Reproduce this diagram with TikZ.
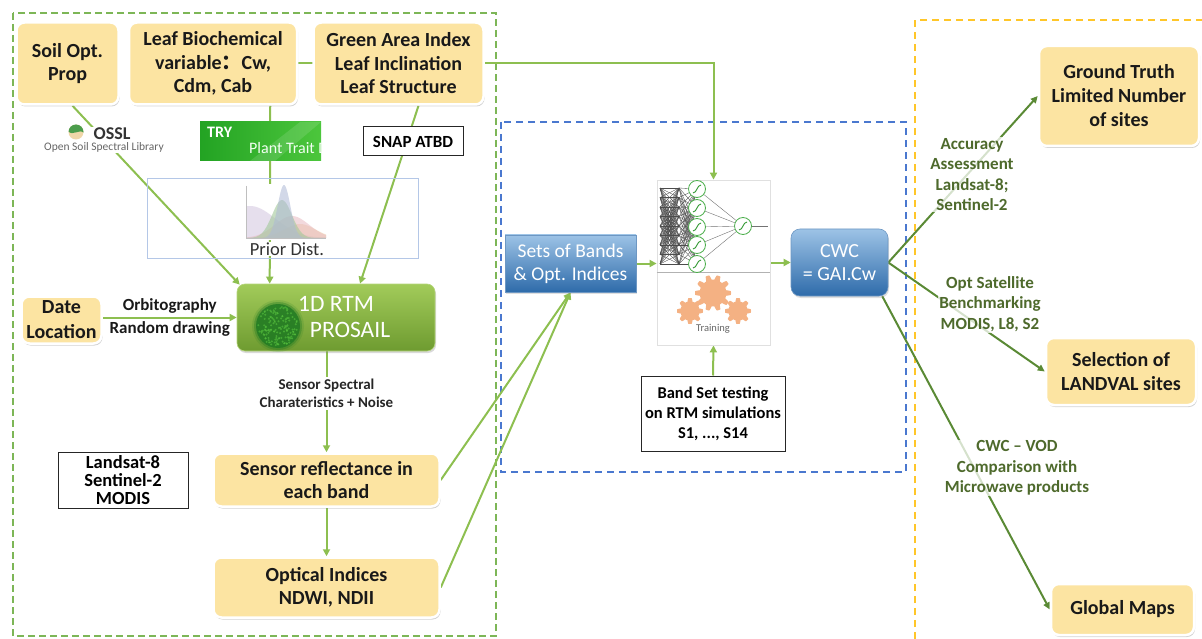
\documentclass[tikz,border=0pt]{standalone}
\usepackage{fontspec}
\setmainfont{Carlito}
\newfontfamily\cjkfont{Noto Sans CJK SC}
\usetikzlibrary{arrows.meta,shadows,calc,backgrounds}

\definecolor{boxyellow}{HTML}{FCE4A2}
\definecolor{lgreen}{HTML}{8DBF50}
\definecolor{dgreen}{HTML}{5A8A35}
\definecolor{lblgreen}{HTML}{4E6A2C}
\definecolor{frameg}{HTML}{7DB657}
\definecolor{frameb}{HTML}{4A78CF}
\definecolor{framey}{HTML}{FFC629}
\definecolor{bluetop}{HTML}{9DC3E6}
\definecolor{bluebot}{HTML}{2E6BAA}
\definecolor{rtmtop}{HTML}{A2CB5A}
\definecolor{rtmbot}{HTML}{6E9B30}
\definecolor{gearorange}{HTML}{F4B183}
\definecolor{priorframe}{HTML}{B4C7E7}
\definecolor{cLav}{HTML}{D3C6E0}
\definecolor{cBlue}{HTML}{AEB9D6}
\definecolor{cGreen}{HTML}{A3C99A}
\definecolor{cPink}{HTML}{E7B4BD}
\definecolor{cTan}{HTML}{F0D3A8}
\definecolor{blobdark}{HTML}{1F7A22}
\definecolor{blobhi}{HTML}{57C23E}
\definecolor{tryleft}{HTML}{23A323}
\definecolor{tryright}{HTML}{4CC63C}

\begin{document}
\begin{tikzpicture}[x=1pt,y=-1pt,
  ybox/.style={rounded corners=8pt, fill=boxyellow, draw=white, line width=2.5pt,
    drop shadow={opacity=0.35, shadow xshift=1pt, shadow yshift=-2pt},
    align=center, inner sep=2pt, text=black!90,
    font=\bfseries\fontsize{20}{23.5}\selectfont},
  bbox/.style={top color=bluetop, bottom color=bluebot, draw=bluebot!70!white, line width=0.6pt,
    text=white, align=center, inner sep=2pt,
    drop shadow={opacity=0.25, shadow xshift=1pt, shadow yshift=-2pt},
    font=\fontsize{19.5}{23}\selectfont},
  framebox/.style={draw=black!85, line width=1pt, fill=white, align=center, inner sep=1pt,
    font=\bfseries\fontsize{16.5}{20}\selectfont},
  lbl/.style={font=\bfseries\fontsize{17}{20}\selectfont, text=black!90, inner sep=1pt},
  rlbl/.style={font=\bfseries\fontsize{17}{20.5}\selectfont, text=lblgreen, align=center,
    fill=white, fill opacity=0.75, text opacity=1, inner sep=1pt},
  garrow/.style={draw=lgreen, line width=2pt, -{Triangle[length=7pt,width=7pt]}},
  darrow/.style={draw=dgreen, line width=2pt, -{Triangle[length=7pt,width=6.5pt]}},
  nnline/.style={draw=black!70, line width=0.35pt},
  neuron/.style={draw=green!55!black!70, line width=0.8pt, fill=white},
]
\useasboundingbox (0,0) rectangle (1202,639);

% ---------- input variables ----------
\node (soil) [ybox, minimum width=102pt, minimum height=82pt] at (67.5,63.5) {Soil Opt.\\Prop};
\node (leaf) [ybox, minimum width=168pt, minimum height=82pt] at (213,63.5)
  {Leaf Biochemical\\variable{\cjkfont ：}Cw,\\Cdm, Cab};
\node (gai) [ybox, minimum width=170pt, minimum height=82pt] at (398.5,63.5)
  {Green Area Index\\Leaf Inclination\\Leaf Structure};

% ---------- data sources ----------
\node (ossl) [fill=white, inner sep=1pt, align=center] at (104,140)
  {\hspace*{16pt}{\bfseries\fontsize{18}{18}\selectfont\color{black!80}OSSL}\\[-1pt]
   {\fontsize{11.5}{12}\selectfont\color{black!60}Open Soil Spectral Library}};
\begin{scope}
  \clip (76,132) circle (7.5);
  \fill[boxyellow!70!brown!70] (68,124) rectangle (84,140);
  \fill[green!45!black!70] (68,131) .. controls (73,137) and (79,128) .. (84,133) -- (84,124) -- (68,124) -- cycle;
\end{scope}

\node (try) [left color=tryleft, right color=tryright, minimum width=121pt, minimum height=39pt, inner sep=0] at (260.5,141.5) {};
\begin{scope}
  \clip (try.south west) rectangle (try.north east);
  \fill[white, opacity=0.12] (250,161) -- (300,122) -- (321,122) -- (275,161) -- cycle;
  \node[anchor=west, text=white, font=\bfseries\fontsize{16}{16}\selectfont, inner sep=0] at (207,132) {TRY};
  \node[anchor=west, text=white!95!green, font=\fontsize{16}{16}\selectfont, inner sep=0] at (249,148) {Plant Trait D};
\end{scope}

\node (snap) [framebox, minimum width=100pt, minimum height=29pt, font=\bfseries\fontsize{17}{20}\selectfont] at (413,141.5) {SNAP ATBD};

% prior distributions panel
\node (prior) [draw=priorframe, line width=0.8pt, minimum width=271pt, minimum height=80pt] at (282.5,218) {};
\node (priorimg) [fill=white, minimum width=84pt, minimum height=56pt, inner sep=0] at (286,212) {};
\begin{scope}
  \clip (245,184) rectangle (327,240);
  \fill[cLav, opacity=0.55] (246,238) -- plot[domain=246:326,samples=50] (\x,{238-32*exp(0-((\x-250)/36)^2)}) -- (326,238) -- cycle;
  \fill[cTan, opacity=0.55] (246,238) -- plot[domain=246:326,samples=50] (\x,{238-14*exp(0-((\x-300)/22)^2)}) -- (326,238) -- cycle;
  \fill[cPink, opacity=0.5] (246,238) -- plot[domain=246:326,samples=50] (\x,{238-22*exp(0-((\x-292)/24)^2)}) -- (326,238) -- cycle;
  \fill[cGreen, opacity=0.6] (246,238) -- plot[domain=246:326,samples=60] (\x,{238-38*exp(0-((\x-282)/14)^2)}) -- (326,238) -- cycle;
  \fill[cBlue, opacity=0.55] (246,238) -- plot[domain=246:326,samples=80] (\x,{238-53*exp(0-((\x-284)/9)^2)}) -- (326,238) -- cycle;
  \draw[black!25, line width=0.5pt] (246,186) -- (246,238) -- (326,238);
\end{scope}
\node (priortxt) [fill=white, inner sep=1pt, font=\fontsize{18.5}{20}\selectfont, text=black!80] at (287,249) {Prior Dist.};

% ---------- radiative transfer model ----------
\node (rtm) [rounded corners=8pt, top color=rtmtop, bottom color=rtmbot, draw=rtmtop!80!white, line width=0.6pt,
  minimum width=198pt, minimum height=67pt, text=white, align=center,
  font=\fontsize{23.5}{26}\selectfont,
  drop shadow={opacity=0.3, shadow xshift=1pt, shadow yshift=-2pt}] at (336,317.5)
  {1D RTM\\\hspace*{28pt}PROSAIL};
\fill[blobdark, opacity=0.15] (278,326) circle (26);
\fill[blobdark, opacity=0.35] (278,326) circle (24);
\fill[blobdark, opacity=0.8] (278,326) circle (22);
\pgfmathsetseed{7}
\foreach \i in {1,...,140}{
  \pgfmathsetmacro\ang{rnd*360}
  \pgfmathsetmacro\rad{sqrt(rnd)*20}
  \fill[blobhi, opacity=0.6] ($(278,326)+(\ang:\rad)$) circle (1.1);
}

\node (date) [ybox, minimum width=80pt, minimum height=47pt, inner sep=1pt, font=\bfseries\fontsize{20}{25}\selectfont] at (61.5,320) {Date\\Location};

\node (sensor) [ybox, minimum width=226pt, minimum height=53pt] at (326.5,480) {Sensor reflectance in\\each band};
\node (optical) [ybox, minimum width=226pt, minimum height=60pt] at (326.5,587.5) {Optical Indices\\NDWI, NDII};
\node (landsat) [framebox, minimum width=130pt, minimum height=56pt, inner sep=0, font=\bfseries\fontsize{18.5}{18}\selectfont] at (123,480)
  {Landsat-8\\Sentinel-2\\MODIS};

% ---------- retrieval ----------
\node (sets) [bbox, minimum width=131pt, minimum height=57pt] at (570.5,263.5) {Sets of Bands\\\& Opt. Indices};

\node (nn) [draw=black!12, line width=0.8pt, fill=white, minimum width=113pt, minimum height=165pt, inner sep=0] at (713.5,262.5) {};
\draw[black!30, line width=0.8pt] (nn.west |- 0,272) -- (nn.east |- 0,272);
\foreach \i in {0,...,8}{
  \coordinate (a\i) at (660,{188+\i*9.5});
  \coordinate (b\i) at (679,{188+\i*9.5});
}
\foreach \j/\yy in {0/189,1/208,2/227,3/245,4/264}{ \coordinate (h\j) at (697,\yy); }
\coordinate (out) at (743,226);
\foreach \i in {0,...,8}{ \foreach \k in {0,...,8}{ \draw[nnline] (a\i) -- (b\k); } }
\foreach \k in {0,...,8}{ \foreach \j in {0,...,4}{ \draw[nnline] (b\k) -- (h\j); } }
\foreach \j in {0,...,4}{ \draw[black!55, line width=0.4pt] (h\j) -- (out); }
\draw[black!55, line width=0.5pt] (out) -- (768,226);
\foreach \j in {0,...,4}{
  \draw[neuron] (h\j) circle (8.5);
  \draw[green!50!black!80, line width=0.9pt] ($(h\j)+(-4,4)$) .. controls ($(h\j)+(0,4)$) and ($(h\j)+(0,-4)$) .. ($(h\j)+(4,-4)$);
}
\draw[neuron] (out) circle (8.5);
\draw[green!50!black!80, line width=0.9pt] ($(out)+(-4,4)$) .. controls ($(out)+(0,4)$) and ($(out)+(0,-4)$) .. ($(out)+(4,-4)$);
% training cogs
\foreach \cx/\cy/\R/\n in {690/311/13/8, 738/311/13/8, 713/293/18/10}{
  \fill[gearorange] plot[domain=0:360, samples=240] ({\cx+\R*(0.87+0.13*min(1,max(-1,2*cos(\n*\x))))*cos(\x)},
                                                    {\cy+\R*(0.87+0.13*min(1,max(-1,2*cos(\n*\x))))*sin(\x)}) -- cycle;
}
\node[font=\fontsize{10.5}{12}\selectfont, text=black!60, inner sep=0] at (713,329) {Training};

\node (cwc) [bbox, rounded corners=9pt, minimum width=97pt, minimum height=67pt, font=\fontsize{20}{23}\selectfont] at (839.5,262.5) {CWC\\= GAI.Cw};

\node (bandset) [framebox, minimum width=144pt, minimum height=75pt] at (713,413.5)
  {Band Set testing\\on RTM simulations\\S1, ..., S14};

% ---------- validation and products ----------
\node (truth) [ybox, minimum width=160pt, minimum height=100pt, font=\bfseries\fontsize{20}{24}\selectfont] at (1119,96)
  {Ground Truth\\Limited Number\\of sites};
\node (landval) [ybox, minimum width=150pt, minimum height=67pt, font=\bfseries\fontsize{20}{24}\selectfont] at (1121,371.5)
  {Selection of\\LANDVAL sites};
\node (maps) [ybox, minimum width=143pt, minimum height=51pt] at (1122.5,609.5) {Global Maps};

\node (accl) [rlbl] at (972,174.5) {Accuracy\\Assessment\\Landsat-8;\\Sentinel-2};
\node (optl) [rlbl] at (990,304) {Opt Satellite\\Benchmarking\\MODIS, L8, S2};
\node (vodl) [rlbl] at (1017,468) {CWC -- VOD\\Comparison with\\Microwave products};

% ---------- frames and connectors ----------
\begin{scope}[on background layer]
  \draw[frameg, line width=1.5pt, dash pattern=on 7pt off 4pt] (13,13) rectangle (496,636);
  \draw[frameb, line width=1.3pt, dash pattern=on 7pt off 5pt] (501,122) rectangle (906,472);
  \draw[framey, line width=1.3pt, dash pattern=on 7pt off 5pt] (915,639) -- (915,20) -- (1202,20);

  \draw[garrow] ($(soil.south)+(5,0)$) -- ($(rtm.north west)+(3,1)$);
  \draw[garrow] ($(leaf.south east)+(-28,0)$) -- ($(rtm.north west)+(33,0)$);
  \draw[garrow] ($(gai.south)+(20,0)$) -- ($(rtm.north)+(24,0)$);
  \draw[garrow] (leaf.east) -| (nn.north);

  \draw[garrow] (date.east |- rtm.west) -- (rtm.west)
    node[midway, lbl, above=2pt] {Orbitography}
    node[midway, lbl, below=2pt] {Random drawing};

  \draw[garrow] (sensor.north |- rtm.south) -- (sensor.north)
    node[pos=0.42, fill=white, inner sep=2pt, align=center, text=black!85,
         font=\bfseries\fontsize{15}{18}\selectfont] {Sensor Spectral\\Charateristics + Noise};
  \draw[garrow] (sensor.south) -- (optical.north);
  \draw[garrow] (sensor.east) -- (sets.south);
  \draw[garrow] (optical.east) -- (sets.south);

  \draw[garrow] (sets.east) -- (sets.east -| nn.west);
  \draw[garrow] (nn.east |- cwc.west) -- (cwc.west);
  \draw[garrow] (bandset.north) -- (nn.south);

  \draw[darrow] (cwc.east) -- (truth.west);
  \draw[darrow] (cwc.east) -- (landval.west);
  \draw[darrow] ($(cwc.south east)+(-6,0)$) -- (maps.west);
\end{scope}
\end{tikzpicture}
\end{document}
